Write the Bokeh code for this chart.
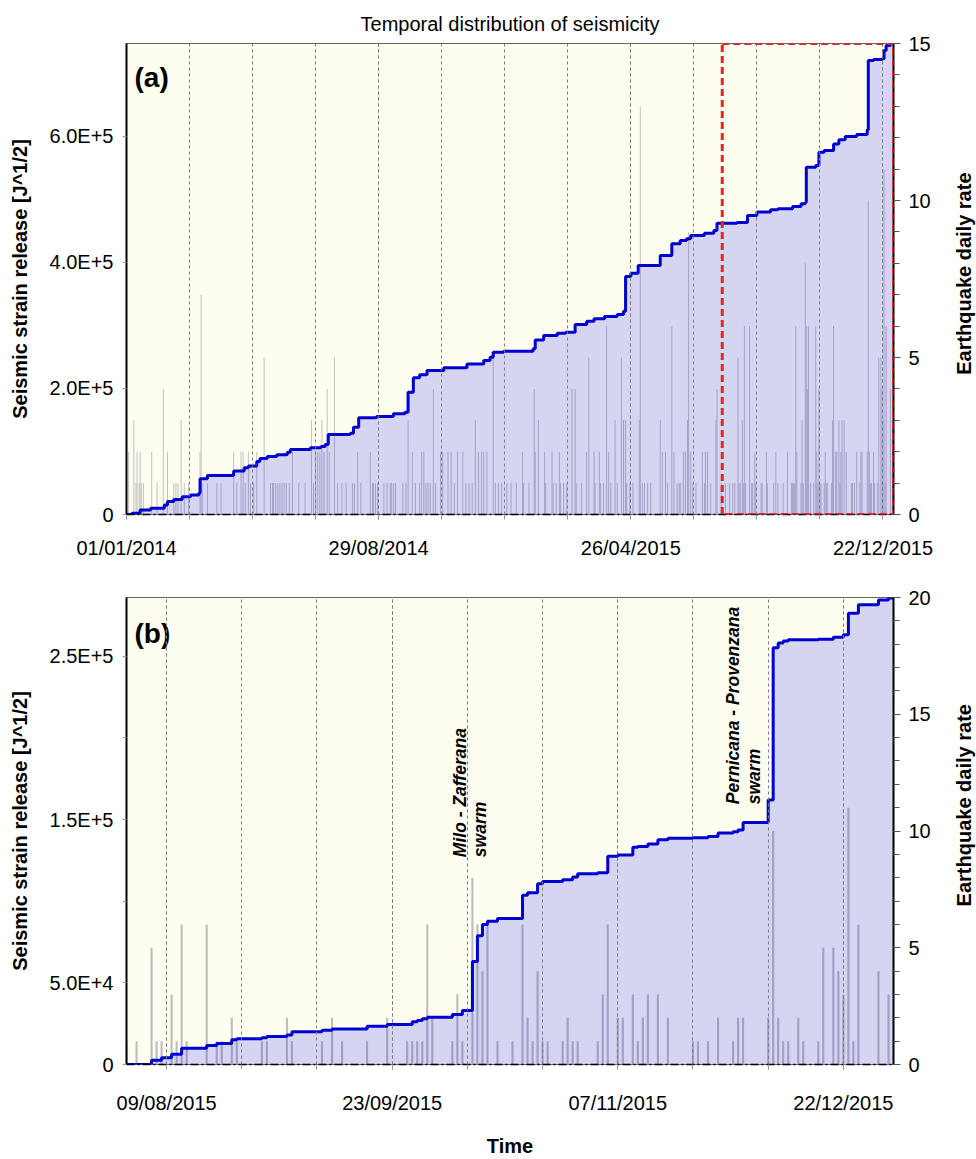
import math
import numpy as np
import pandas as pd
from bokeh.plotting import figure
from bokeh.models import (Range1d, LinearAxis, FixedTicker, SingleIntervalTicker,
                          DatetimeTickFormatter, BoxAnnotation, Label)
from bokeh.layouts import column, row
from bokeh.core.properties import value
from bokeh.embed import file_html
from bokeh.resources import INLINE

FONT = "Liberation Sans"

# ---------------- panel (a): 2014-2015 ----------------
a_start = "2014-01-01"
a_end = "2016-01-01"
# cumulative seismic strain release, days since 01/01/2014 -> value after step
a_step_day = [0, 5, 13, 23, 36, 39, 45, 53, 61, 69,
              70, 77, 102, 112, 116, 124, 127, 134, 143, 153,
              156, 175, 185, 189, 192, 213, 216, 221, 238, 254,
              265, 268, 273, 279, 286, 302, 324, 340, 346, 349,
              359, 387, 389, 397, 410, 418, 427, 438, 445, 455,
              467, 473, 475, 480, 487, 508, 519, 527, 533, 537,
              550, 559, 562, 581, 591, 600, 613, 620, 634, 642,
              646, 647, 656, 659, 664, 673, 678, 684, 695, 705,
              706, 711, 719, 721, 723, 727]
a_step_value = [0, 2000, 7000, 10000, 15000, 20500, 24000, 28000, 31000, 34000,
                56600, 62000, 69000, 74000, 77000, 84000, 89000, 92000, 94700, 98900,
                103000, 106000, 108000, 111000, 127000, 129000, 138600, 153400, 155600, 159800,
                162400, 194000, 217000, 221700, 228600, 232800, 239000, 244400, 249700, 257600,
                259000, 263000, 277000, 284000, 287800, 289400, 301600, 306800, 310600, 314300,
                317500, 322700, 377800, 383000, 395000, 411000, 429600, 435000, 437600, 442900,
                446500, 450800, 462400, 463500, 474600, 479900, 483600, 485200, 488900, 493000,
                495700, 551300, 554000, 575000, 577800, 588000, 594800, 600000, 603000, 610600,
                720600, 722000, 723300, 736500, 744400, 747000]
# earthquake daily rate (days since 01/01/2014 with events)
a_rate_day = [2, 7, 9, 10, 12, 13, 14, 16, 24, 29,
              35, 39, 45, 47, 49, 52, 55, 59, 70, 71,
              72, 77, 86, 90, 102, 105, 109, 111, 113, 116,
              118, 121, 124, 131, 137, 139, 140, 142, 144, 146,
              148, 150, 152, 155, 158, 164, 170, 176, 178, 180,
              182, 184, 186, 188, 191, 193, 198, 201, 205, 209,
              215, 217, 220, 223, 232, 234, 235, 237, 239, 245,
              248, 251, 252, 254, 256, 263, 266, 268, 272, 275,
              279, 281, 283, 285, 287, 289, 292, 294, 299, 301,
              306, 309, 312, 315, 320, 323, 326, 329, 332, 335,
              338, 340, 343, 349, 351, 354, 357, 362, 366, 371,
              377, 378, 383, 388, 389, 392, 398, 399, 405, 406,
              409, 412, 413, 416, 419, 424, 427, 428, 433, 438,
              440, 445, 446, 450, 451, 454, 457, 459, 461, 465,
              467, 471, 473, 475, 476, 479, 482, 488, 489, 491,
              493, 496, 499, 508, 510, 513, 515, 519, 521, 524,
              526, 527, 530, 532, 534, 535, 537, 539, 542, 548,
              550, 551, 553, 556, 561, 562, 566, 570, 574, 577,
              579, 582, 583, 584, 586, 587, 588, 589, 593, 595,
              596, 598, 599, 604, 605, 609, 610, 616, 618, 620,
              625, 629, 633, 634, 635, 636, 637, 638, 642, 643,
              644, 646, 647, 648, 649, 651, 654, 656, 657, 658,
              659, 660, 661, 664, 665, 666, 667, 671, 672, 673,
              675, 676, 678, 679, 680, 681, 683, 685, 690, 691,
              693, 695, 698, 699, 700, 705, 706, 707, 708, 709,
              711, 712, 715, 716, 718, 719, 720, 721, 722, 723,
              727, 729]
a_rate_count = [2, 3, 1, 2, 1, 2, 1, 1, 2, 1,
                4, 2, 1, 1, 1, 3, 1, 1, 2, 7,
                1, 1, 1, 1, 2, 1, 2, 2, 1, 2,
                1, 1, 2, 5, 1, 1, 1, 1, 1, 1,
                1, 1, 1, 1, 2, 1, 1, 3, 1, 2,
                2, 2, 3, 2, 4, 2, 5, 1, 1, 1,
                1, 1, 2, 1, 2, 1, 1, 1, 1, 1,
                1, 1, 1, 1, 1, 1, 1, 3, 2, 1,
                1, 2, 2, 1, 1, 1, 4, 1, 2, 2,
                2, 2, 1, 2, 2, 1, 1, 1, 3, 2,
                2, 2, 2, 5, 1, 1, 1, 1, 1, 1,
                2, 1, 1, 4, 2, 3, 2, 1, 2, 1,
                1, 2, 1, 1, 1, 4, 4, 1, 1, 2,
                5, 2, 1, 2, 1, 1, 6, 2, 1, 3,
                1, 5, 3, 3, 1, 1, 1, 3, 13, 1,
                1, 1, 1, 3, 2, 2, 1, 6, 2, 1,
                1, 1, 2, 2, 3, 9, 2, 1, 1, 2,
                1, 2, 2, 1, 3, 4, 1, 1, 1, 1,
                1, 5, 1, 1, 3, 1, 6, 1, 6, 1,
                1, 2, 1, 1, 1, 2, 1, 1, 2, 1,
                1, 2, 1, 1, 1, 1, 6, 2, 1, 3,
                1, 8, 6, 4, 6, 1, 1, 6, 2, 1,
                4, 1, 1, 1, 2, 1, 1, 1, 3, 6,
                2, 2, 3, 1, 2, 3, 3, 2, 1, 1,
                1, 2, 1, 2, 2, 2, 10, 2, 1, 1,
                2, 1, 1, 5, 5, 4, 3, 11, 1, 6,
                4, 3]
a_tick_labels = ["01/01/2014", "29/08/2014", "26/04/2015", "22/12/2015"]
a_left_ticks = [0, 200000, 400000, 600000]
a_left_labels = ["0", "2.0E+5", "4.0E+5", "6.0E+5"]
a_left_max = 747500
a_rate_max = 15
a_zoom_window = ("2015-07-22", "2016-01-01")

# ---------------- panel (b): Aug-Dec 2015 ----------------
b_start = "2015-08-01"
b_end = "2016-01-01"
b_step_day = [0, 5, 7, 9, 11, 16, 18, 21, 22, 27,
              28, 32, 33, 39, 41, 48, 52, 57, 58, 59,
              60, 65, 67, 69, 70, 71, 72, 74, 79, 80,
              82, 83, 87, 89, 90, 94, 96, 98, 101, 102,
              104, 106, 108, 113, 116, 118, 121, 122, 123, 128,
              129, 130, 131, 132, 138, 141, 143, 144, 146, 150,
              152]
b_step_value = [0, 2600, 4200, 6300, 9900, 11700, 12800, 15200, 15800, 16400,
                17200, 18000, 20100, 20900, 21700, 23500, 24500, 26200, 27000, 28000,
                29000, 30600, 33000, 63100, 78900, 85800, 87800, 89400, 103600, 105200,
                110700, 112100, 113100, 114800, 116800, 117500, 127500, 128300, 133000, 133500,
                135000, 137700, 138500, 138900, 139700, 141700, 142500, 143600, 148200, 162000,
                255300, 258100, 259300, 260200, 260500, 261700, 263200, 276300, 281600, 284500,
                285700]
b_rate_day = [0, 2, 5, 6, 7, 9, 10, 11, 12, 16,
              18, 19, 21, 22, 27, 28, 32, 33, 39, 41,
              43, 48, 52, 56, 57, 58, 59, 60, 61, 65,
              66, 67, 69, 70, 71, 72, 74, 77, 79, 80,
              81, 82, 83, 84, 87, 88, 89, 90, 94, 95,
              96, 98, 99, 101, 102, 103, 104, 106, 108, 113,
              114, 116, 118, 121, 122, 123, 128, 129, 130, 131,
              132, 134, 135, 138, 139, 141, 142, 143, 144, 145,
              146, 150, 152]
b_rate_count = [1, 1, 5, 1, 1, 3, 1, 6, 1, 6,
                1, 1, 2, 1, 1, 1, 2, 1, 1, 2,
                1, 1, 2, 1, 1, 1, 1, 6, 2, 1,
                3, 1, 8, 6, 4, 6, 1, 1, 6, 2,
                1, 4, 1, 1, 1, 2, 1, 1, 1, 3,
                6, 2, 2, 3, 1, 2, 3, 3, 2, 1,
                1, 1, 2, 1, 2, 2, 2, 10, 2, 1,
                1, 2, 1, 1, 5, 5, 4, 3, 11, 1,
                6, 4, 3]
b_tick_labels = ["09/08/2015", "23/09/2015", "07/11/2015", "22/12/2015"]
b_left_ticks = [0, 50000, 100000, 150000, 200000, 250000]
b_left_labels = ["0", "5.0E+4", "", "1.5E+5", "", "2.5E+5"]
b_left_max = 286000
b_rate_max = 20

assert len(a_step_day) == len(a_step_value)
assert len(a_rate_day) == len(a_rate_count)
assert len(b_step_day) == len(b_step_value)
assert len(b_rate_day) == len(b_rate_count)

DAY_MS = 86400000.0
EPOCH = pd.Timestamp("1970-01-01")
MAIN_W = 946     # chart part of each row; a narrow strip holds the right-axis title
STRIP_W = 30


def ms(ts):
    return (pd.Timestamp(ts) - EPOCH) / pd.Timedelta(milliseconds=1)


def to_dates(start, days):
    return pd.Timestamp(start) + pd.to_timedelta(np.asarray(days, dtype=float), unit="D")


def make_panel(start, end, step_day, step_value, rate_day, rate_count,
               left_max, rate_max, tick_labels, grid_first, grid_freq,
               left_ticks, left_labels, bar_w, height, top, bottom,
               xlabel_standoff, title=None, xlabel=None):
    p = figure(width=MAIN_W, height=height, x_axis_type="datetime",
               output_backend="svg", toolbar_location=None,
               x_range=Range1d(ms(start), ms(end)),
               y_range=Range1d(0, left_max),
               min_border_left=126, min_border_right=MAIN_W - 126 - 767,
               min_border_top=top, min_border_bottom=bottom,
               title=title)
    p.background_fill_color = "#FEFEF0"
    p.border_fill_color = "white"
    p.outline_line_color = "#666666"
    p.outline_line_width = 1
    p.ygrid.grid_line_color = None
    p.extra_y_ranges = {"rate": Range1d(0, rate_max)}

    # daily rate bars (right axis)
    rx = to_dates(start, rate_day)
    p.vbar(x=rx, top=rate_count, bottom=0, width=bar_w * DAY_MS,
           y_range_name="rate", fill_color="#BDBDBD", line_color=None)

    # cumulative strain release (left axis)
    sx = list(to_dates(start, step_day)) + [pd.Timestamp(end)]
    sy = list(step_value) + [step_value[-1]]
    p.varea_step(x=sx, y1=[0] * len(sy), y2=sy, step_mode="after",
                 fill_color="#0000FF", fill_alpha=0.16)
    p.step(x=sx, y=sy, mode="after", line_color="#0000D0", line_width=3)

    # x axis
    label_ts = pd.to_datetime(tick_labels, format="%d/%m/%Y")
    grid_ts = pd.date_range(grid_first, label_ts[-1], freq=grid_freq)
    xa = p.xaxis[0]
    xa.ticker = FixedTicker(ticks=[ms(t) for t in label_ts],
                            minor_ticks=[ms(t) for t in grid_ts])
    fmt = "%d/%m/%Y"
    xa.formatter = DatetimeTickFormatter(milliseconds=fmt, seconds=fmt, minsec=fmt,
                                         minutes=fmt, hourmin=fmt, hours=fmt,
                                         days=fmt, months=fmt, years=fmt)
    xa.major_label_text_font = FONT
    xa.major_label_text_font_size = "20px"
    xa.major_label_text_color = "black"
    xa.major_label_standoff = xlabel_standoff
    xa.major_tick_out = 5
    xa.major_tick_in = 0
    xa.minor_tick_out = 5
    xa.minor_tick_in = 0
    xa.major_tick_line_color = "#999999"
    xa.minor_tick_line_color = "#999999"
    xa.axis_line_color = "black"
    xa.axis_line_width = 1.5
    xa.axis_line_dash = "8 3 2 3"
    if xlabel:
        xa.axis_label = xlabel
        xa.axis_label_text_font = FONT
        xa.axis_label_text_font_size = "20px"
        xa.axis_label_text_font_style = "bold"
        xa.axis_label_text_color = "black"
        xa.axis_label_standoff = 18
    p.xgrid.grid_line_color = "#7A7A7A"
    p.xgrid.grid_line_dash = "3 3"
    p.xgrid.grid_line_width = 1
    p.xgrid.minor_grid_line_color = "#7A7A7A"
    p.xgrid.minor_grid_line_dash = "3 3"
    p.xgrid.minor_grid_line_width = 1
    p.xgrid.level = "overlay"

    # left axis
    ya = p.yaxis[0]
    ya.ticker = FixedTicker(ticks=left_ticks)
    ya.major_label_overrides = dict(zip(left_ticks, left_labels))
    ya.axis_label = "Seismic strain release [J^1/2]"
    ya.axis_label_text_font = FONT
    ya.axis_label_text_font_size = "20px"
    ya.axis_label_text_font_style = "bold"
    ya.axis_label_text_color = "black"
    ya.axis_label_standoff = 16
    ya.major_label_text_font = FONT
    ya.major_label_text_font_size = "20px"
    ya.major_label_text_color = "black"
    ya.major_label_standoff = 9
    ya.major_tick_out = 4
    ya.major_tick_in = 0
    ya.major_tick_line_color = "#999999"
    ya.minor_tick_line_color = None
    ya.axis_line_color = "black"
    ya.axis_line_width = 2

    # right axis
    ra = LinearAxis(y_range_name="rate",
                    ticker=SingleIntervalTicker(interval=5, num_minor_ticks=5))
    ra.major_label_text_font = FONT
    ra.major_label_text_font_size = "20px"
    ra.major_label_text_color = "black"
    ra.major_label_standoff = 8
    ra.major_tick_out = 7
    ra.major_tick_in = 0
    ra.minor_tick_out = 6
    ra.minor_tick_in = 0
    ra.major_tick_line_color = "#555555"
    ra.minor_tick_line_color = "#555555"
    ra.axis_line_color = "black"
    ra.axis_line_width = 2
    p.add_layout(ra, "right")

    if title is not None:
        p.title.align = "center"
        p.title.text_font = FONT
        p.title.text_font_size = "20px"
        p.title.text_font_style = "normal"
        p.title.text_color = "black"
        p.title.standoff = 18
    return p


def right_title_strip(height, centre_from_top, text):
    """Narrow figure next to a panel carrying its rotated right-axis title."""
    s = figure(width=STRIP_W, height=height, output_backend="svg",
               toolbar_location=None, x_axis_location=None, y_axis_location=None,
               x_range=Range1d(0, STRIP_W), y_range=Range1d(0, height),
               min_border=0, min_border_left=0, min_border_right=0,
               min_border_top=0, min_border_bottom=0)
    s.outline_line_color = None
    s.background_fill_color = "white"
    s.border_fill_color = "white"
    s.grid.visible = False
    s.text(x=[17], y=[height - centre_from_top], text=[text], angle=math.pi / 2,
           text_font=value(FONT), text_font_size="20px", text_font_style="bold",
           text_color="black", text_align="center", text_baseline="middle")
    return s


p1 = make_panel(a_start, a_end, a_step_day, a_step_value, a_rate_day, a_rate_count,
                a_left_max, a_rate_max, a_tick_labels, "2014-03-02", "60D",
                a_left_ticks, a_left_labels, 0.9, 570, 43, 56, 17,
                title="Temporal distribution of seismicity")
p2 = make_panel(b_start, b_end, b_step_day, b_step_value, b_rate_day, b_rate_count,
                b_left_max, b_rate_max, b_tick_labels, "2015-08-09", "15D",
                b_left_ticks, b_left_labels, 0.42, 589, 27, 92, 22,
                xlabel="Time")

# zoom window of panel (b) marked on panel (a)
p1.add_layout(BoxAnnotation(left=ms(a_zoom_window[0]), right=ms(a_zoom_window[1]),
                            bottom=0, top=a_left_max, fill_alpha=0,
                            line_color="#E32424", line_alpha=1.0, line_width=3,
                            line_dash="7 4", level="overlay"))

# panel letters
p1.add_layout(Label(x=ms(a_start) + 7.6 * DAY_MS, y=693600, text="(a)",
                    text_font=FONT, text_font_size="28px", text_font_style="bold",
                    text_color="black", text_baseline="alphabetic"))
p2.add_layout(Label(x=ms(b_start) + 1.6 * DAY_MS, y=264000, text="(b)",
                    text_font=FONT, text_font_size="28px", text_font_style="bold",
                    text_color="black", text_baseline="alphabetic"))

# swarm annotations (rotated)
for xd, yv, txt in [(66.6, 127000, "Milo - Zafferana"), (70.6, 127000, "swarm"),
                    (121.0, 159400, "Pernicana - Provenzana"), (125.1, 159400, "swarm")]:
    p2.add_layout(Label(x=ms(b_start) + xd * DAY_MS, y=yv, text=txt, angle=90,
                        angle_units="deg", text_font=FONT, text_font_size="17.5px",
                        text_font_style="bold italic", text_color="black",
                        text_align="left", text_baseline="middle"))

s1 = right_title_strip(570, 278.5, "Earthquake daily rate")
s2 = right_title_strip(589, 262, "Earthquake daily rate")

layout = column(row(p1, s1, spacing=0), row(p2, s2, spacing=0), spacing=0)
open("out.html", "w").write(file_html(layout, INLINE))
